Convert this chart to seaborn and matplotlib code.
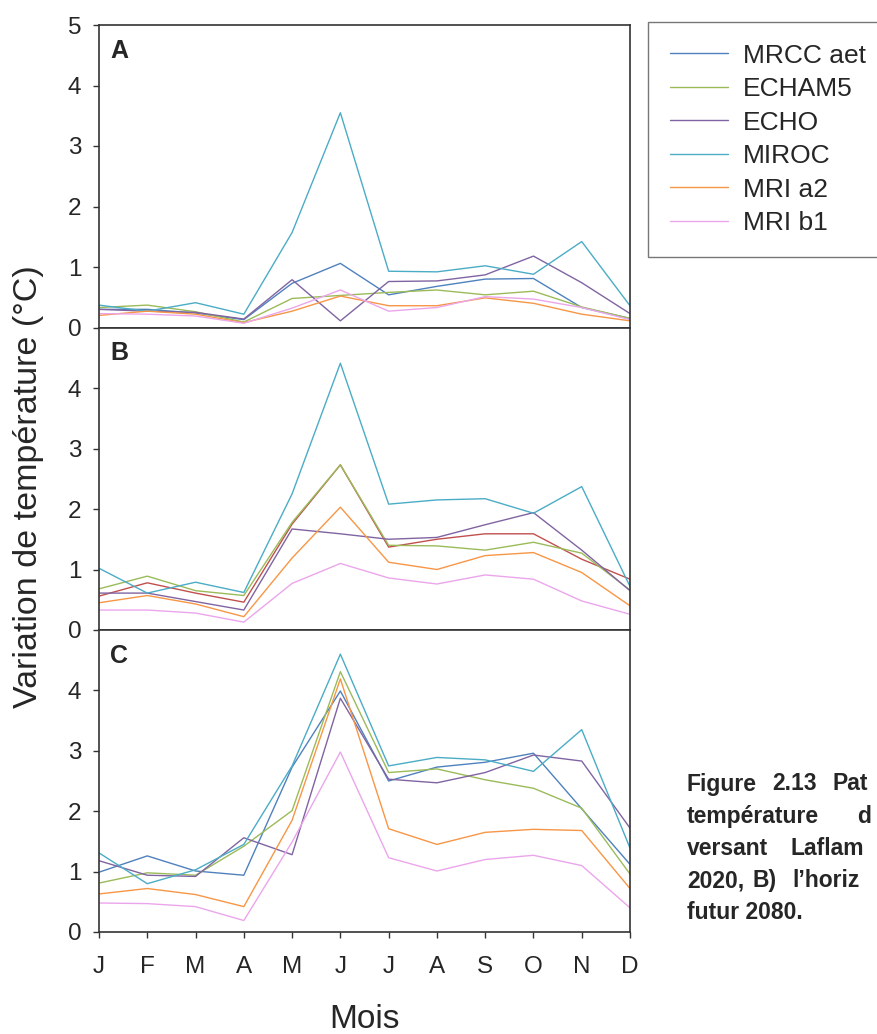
import numpy as np
import pandas as pd
import matplotlib
matplotlib.use("Agg")
import matplotlib.pyplot as plt
from matplotlib import font_manager as fm
import seaborn as sns

sns.set_style("white")
plt.rcParams['font.family'] = ['Liberation Sans', 'DejaVu Sans']

# locate the regular (non-narrow) Liberation Sans Bold file
bold_file = None
for f in fm.findSystemFonts():
    base = f.replace("\\", "/").split("/")[-1]
    if base.lower() == "liberationsans-bold.ttf":
        bold_file = f
        break
if bold_file:
    BOLD = fm.FontProperties(fname=bold_file)
else:
    BOLD = fm.FontProperties(family=["Liberation Sans", "DejaVu Sans"], weight="bold")

months = ["J", "F", "M", "A", "M", "J", "J", "A", "S", "O", "N", "D"]
series_names = ["MRCC aet", "ECHAM5", "ECHO", "MIROC", "MRI a2", "MRI b1"]
panel_labels = ["A", "B", "C"]

# Panel A (horizon 2020)
a_mrcc = [0.30, 0.30, 0.24, 0.13, 0.73, 1.06, 0.54, 0.68, 0.80, 0.81, 0.33, 0.15]
a_echam5 = [0.33, 0.37, 0.26, 0.09, 0.48, 0.53, 0.58, 0.62, 0.54, 0.60, 0.34, 0.15]
a_echo = [0.30, 0.27, 0.25, 0.14, 0.79, 0.11, 0.76, 0.77, 0.87, 1.18, 0.74, 0.23]
a_miroc = [0.37, 0.27, 0.41, 0.22, 1.57, 3.55, 0.93, 0.92, 1.02, 0.88, 1.42, 0.36]
a_mria2 = [0.20, 0.27, 0.22, 0.08, 0.27, 0.52, 0.36, 0.36, 0.49, 0.40, 0.22, 0.11]
a_mrib1 = [0.23, 0.22, 0.19, 0.07, 0.32, 0.62, 0.27, 0.33, 0.51, 0.47, 0.33, 0.13]

# Panel B (horizon 2050)
b_mrcc = [0.56, 0.78, 0.61, 0.46, 1.75, 2.73, 1.37, 1.50, 1.59, 1.59, 1.17, 0.84]
b_echam5 = [0.68, 0.89, 0.65, 0.57, 1.78, 2.73, 1.40, 1.39, 1.32, 1.45, 1.27, 0.66]
b_echo = [0.61, 0.61, 0.47, 0.33, 1.67, 1.59, 1.50, 1.53, 1.74, 1.94, 1.32, 0.65]
b_miroc = [1.02, 0.61, 0.79, 0.62, 2.25, 4.41, 2.08, 2.15, 2.17, 1.93, 2.37, 0.72]
b_mria2 = [0.45, 0.57, 0.43, 0.22, 1.19, 2.03, 1.12, 1.00, 1.23, 1.28, 0.95, 0.40]
b_mrib1 = [0.33, 0.33, 0.28, 0.13, 0.77, 1.10, 0.86, 0.76, 0.91, 0.84, 0.48, 0.26]

# Panel C (horizon 2080)
c_mrcc = [0.99, 1.26, 1.01, 0.94, 2.73, 3.99, 2.50, 2.73, 2.81, 2.96, 2.04, 1.12]
c_echam5 = [0.81, 0.98, 0.94, 1.42, 2.01, 4.31, 2.64, 2.70, 2.52, 2.38, 2.05, 0.96]
c_echo = [1.18, 0.94, 0.92, 1.56, 1.28, 3.87, 2.53, 2.47, 2.64, 2.93, 2.83, 1.72]
c_miroc = [1.31, 0.80, 1.03, 1.45, 2.75, 4.60, 2.75, 2.89, 2.85, 2.66, 3.35, 1.39]
c_mria2 = [0.63, 0.72, 0.62, 0.42, 1.85, 4.19, 1.71, 1.45, 1.65, 1.70, 1.68, 0.72]
c_mrib1 = [0.48, 0.47, 0.42, 0.19, 1.49, 2.98, 1.23, 1.01, 1.20, 1.27, 1.10, 0.40]

panels = [
    [a_mrcc, a_echam5, a_echo, a_miroc, a_mria2, a_mrib1],
    [b_mrcc, b_echam5, b_echo, b_miroc, b_mria2, b_mrib1],
    [c_mrcc, c_echam5, c_echo, c_miroc, c_mria2, c_mrib1],
]

colors = ["#4F81BD", "#9BBB59", "#8064A2", "#4BACC6", "#F79646", "#EBA6EB"]
panel_colors = [colors, ["#C0504D"] + colors[1:], colors]

W, H = 878, 1034
fig = plt.figure(figsize=(W / 100, H / 100), dpi=100)

left, right = 99, 630
tops = [25, 327.5, 630]
bots = [327.5, 630, 932]

for i in range(3):
    ax = fig.add_axes([left / W, 1 - bots[i] / H, (right - left) / W, (bots[i] - tops[i]) / H])
    rows = []
    for name, vals in zip(series_names, panels[i]):
        for m, v in enumerate(vals):
            rows.append({"mois": m, "val": v, "serie": name})
    df = pd.DataFrame(rows)
    for name, col in zip(series_names, panel_colors[i]):
        sub = df[df["serie"] == name]
        sns.lineplot(data=sub, x="mois", y="val", color=col, linewidth=1.0,
                     ax=ax, legend=False)
    ax.set_xlim(0, 11)
    ax.set_ylim(0, 5)
    if i == 0:
        ax.set_yticks([0, 1, 2, 3, 4, 5])
    else:
        ax.set_yticks([0, 1, 2, 3, 4])
    ax.set_xticks(range(12))
    if i == 2:
        ax.set_xticklabels(months)
        ax.tick_params(axis="x", bottom=True, direction="out", length=4, width=1,
                       labelsize=17.5, pad=13.5, color="#333333")
    else:
        ax.set_xticklabels([])
        ax.tick_params(axis="x", bottom=False)
    ax.tick_params(axis="y", left=True, direction="out", length=4, width=1,
                   labelsize=17.5, pad=8.6, color="#333333")
    ax.set_xlabel("")
    ax.set_ylabel("")
    for s in ax.spines.values():
        s.set_visible(True)
        s.set_color("#333333")
        s.set_linewidth(1.2)
    ax.text(0.021, 0.955, panel_labels[i], transform=ax.transAxes,
            fontproperties=BOLD, fontsize=18, va="top", ha="left")

fig.text(29 / W, 1 - 487 / H, "Variation de température (°C)", rotation=90,
         fontsize=24.5, ha="center", va="center")
fig.text(365 / W, 1 - 1020 / H, "Mois", fontsize=24, ha="center", va="center")

handles = [plt.Line2D([], [], color=c, lw=1.0) for c in colors]
leg = fig.legend(handles, series_names, loc="upper left",
                 bbox_to_anchor=(648 / W, 1 - 22 / H), borderaxespad=0,
                 fontsize=19, frameon=True, fancybox=False, edgecolor="#555555",
                 handlelength=2.2, handletextpad=0.57, labelspacing=0.36,
                 borderpad=0.82)
leg.get_frame().set_linewidth(1.0)

# Caption (visible part only; the justified text runs past the right edge in the source)
cap_y0 = 784
cap_dy = 32.2
cap_pieces = [
    [("Figure", 687), ("2.13", 772), ("Pat", 833)],
    [("température", 687), ("d", 857)],
    [("versant", 687), ("Laflam", 791)],
    [("2020,", 687), ("B)", 753), ("l\u2019horiz", 792)],
    [("futur 2080.", 687)],
]
for k, pieces in enumerate(cap_pieces):
    for txt, xx in pieces:
        fig.text(xx / W, 1 - (cap_y0 + k * cap_dy) / H, txt,
                 fontproperties=BOLD, fontsize=16.5, ha="left", va="center")

fig.savefig("out.png", dpi=100)
